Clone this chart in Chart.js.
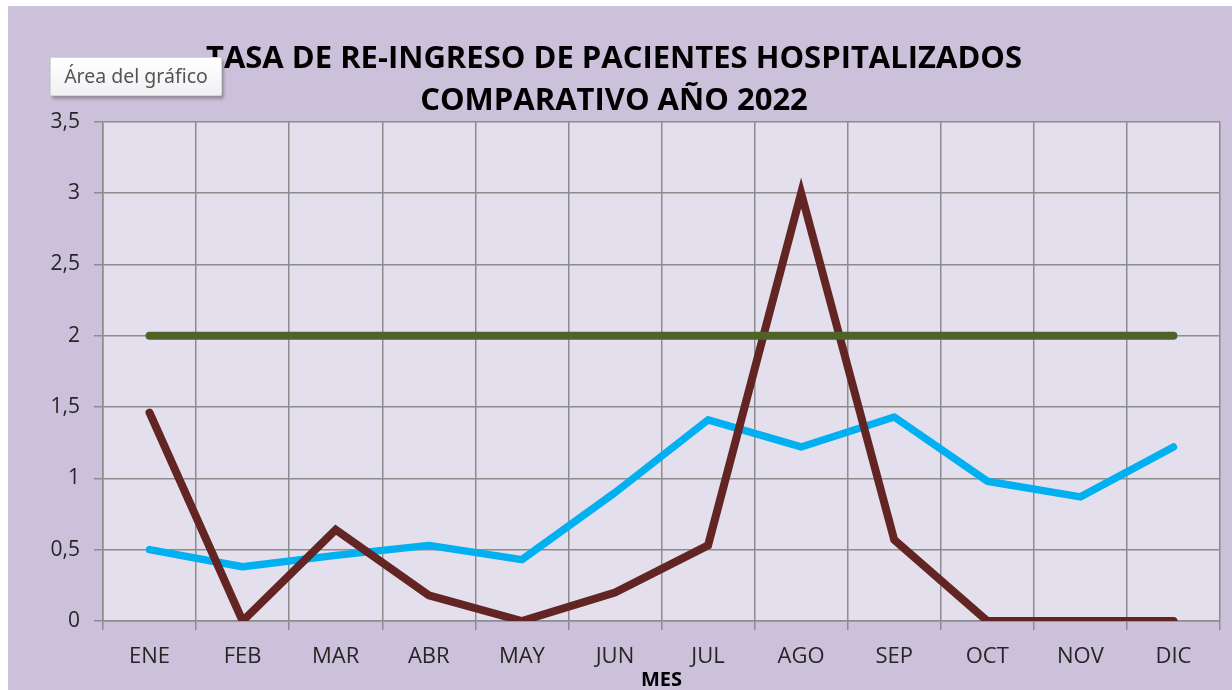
<!DOCTYPE html>
<html>
<head>
<meta charset="utf-8">
<script src="https://cdn.jsdelivr.net/npm/chart.js@4"></script>
<style>
  html, body { margin: 0; padding: 0; background: #fff; }
  #wrap {
    position: absolute; left: 8px; top: 6px; width: 1224px; height: 684px;
    background: #ccc1da; overflow: hidden;
  }
  #box { position: absolute; left: 0; top: 0; width: 1224px; height: 686px; }
  #tip {
    position: absolute; left: 50px; top: 57px; width: 170px; height: 37px;
    background: linear-gradient(#ffffff, #f1f1f4);
    border: 1px solid #d6d6d6; border-radius: 2px;
    box-shadow: 2px 3px 3px rgba(80, 80, 80, 0.45);
    font: 19.5px "Noto Sans", sans-serif; color: #555;
    line-height: 35px; text-align: center; white-space: nowrap;
  }
</style>
</head>
<body>
<div id="wrap">
  <div id="box"><canvas id="readmChart"></canvas></div>
</div>
<div id="tip">Área del gráfico</div>
<script>
let meses = ["ENE", "FEB", "MAR", "ABR", "MAY", "JUN", "JUL", "AGO", "SEP", "OCT", "NOV", "DIC"];
let meta = [2, 2, 2, 2, 2, 2, 2, 2, 2, 2, 2, 2];
let tasaA = [1.46, 0, 0.64, 0.18, 0, 0.2, 0.53, 3.0, 0.57, 0, 0, 0];
let tasaB = [0.5, 0.38, 0.46, 0.53, 0.43, 0.9, 1.41, 1.22, 1.43, 0.98, 0.87, 1.22];
let titulo = ["TASA DE RE-INGRESO DE PACIENTES HOSPITALIZADOS", "COMPARATIVO AÑO 2022"];

let gris = "#8c8c8c";

// fondo del area de trazado
let fondoPlot = {
    id: "fondoPlot",
    beforeDraw: function (chart) {
        let a = chart.chartArea;
        let ctx = chart.ctx;
        ctx.save();
        ctx.fillStyle = "#e4dfec";
        ctx.fillRect(a.left, a.top, a.right - a.left, a.bottom - a.top);
        ctx.restore();
    }
};

new Chart(document.getElementById("readmChart"), {
    type: "line",
    data: {
        labels: meses,
        datasets: [
            {
                label: "Meta",
                data: meta,
                borderColor: "#4f6228",
                borderWidth: 8,
                borderCapStyle: "round"
            },
            {
                label: "Tasa",
                data: tasaA,
                borderColor: "#632523",
                borderWidth: 8,
                borderCapStyle: "round",
                clip: 0
            },
            {
                label: "Tasa 2",
                data: tasaB,
                borderColor: "#00b0f0",
                borderWidth: 7.5,
                borderCapStyle: "round",
                borderJoinStyle: "round"
            }
        ]
    },
    options: {
        responsive: true,
        maintainAspectRatio: false,
        animation: false,
        elements: { point: { radius: 0, hoverRadius: 0 }, line: { tension: 0 } },
        layout: { padding: { left: 0, right: 12, top: 0, bottom: 0 } },
        plugins: {
            legend: { display: false },
            tooltip: { enabled: false },
            title: {
                display: true,
                text: titulo,
                color: "#000",
                font: { family: "'Open Sans', sans-serif", size: 31, weight: "bold", lineHeight: 1.35 },
                padding: { top: 32, bottom: 0 }
            }
        },
        scales: {
            x: {
                offset: true,
                grid: { offset: true, color: gris, lineWidth: 1.5, tickLength: 9, drawTicks: true },
                border: { color: gris, width: 1.5 },
                ticks: { color: "#262626", font: { family: "'Open Sans', sans-serif", size: 22 }, padding: 14 },
                title: {
                    display: true, text: "MES", color: "#000",
                    font: { family: "'Open Sans', sans-serif", size: 20, weight: "bold" },
                    padding: { top: 0, bottom: 0 }
                },
                afterFit: function (s) { s.height = 71; }
            },
            y: {
                min: 0,
                max: 3.5,
                grid: { color: gris, lineWidth: 1.5, tickLength: 9 },
                border: { color: gris, width: 1.5 },
                ticks: {
                    stepSize: 0.5,
                    color: "#262626",
                    font: { family: "'Open Sans', sans-serif", size: 21 },
                    padding: 14,
                    callback: function (v) { return String(v).replace(".", ","); }
                },
                afterFit: function (s) { s.width = 95; }
            }
        }
    },
    plugins: [fondoPlot]
});
</script>
</body>
</html>
